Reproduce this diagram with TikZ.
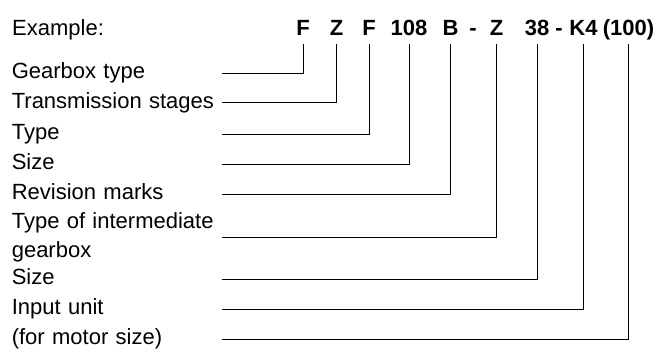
\documentclass[tikz,border=0pt]{standalone}
\usepackage{fontspec}
\setmainfont{Liberation Sans}
\usepackage{tikz}
\usetikzlibrary{positioning}
\newcommand{\codefont}{\fontsize{22}{29}\selectfont}

\begin{document}
\begin{tikzpicture}[
    x=1pt, y=-1pt,
    every node/.style={font=\codefont},
    code/.style={font=\codefont\bfseries, anchor=base, inner sep=0pt, text depth=9pt},
    desc/.style={anchor=east, inner sep=0pt, text width=210pt, align=left},
    descline/.style={desc, text height=15.5pt, text depth=4.5pt},
    lead/.style={line width=1pt}
]
\useasboundingbox (0,0) rectangle (656,351);

\node[anchor=base west, inner sep=0pt] (example) at (12,35) {Example:};
\node[code] (cGear) at (303,35) {F};
\node[code] (cStage) at (336.5,35) {Z};
\node[code] (cType) at (369,35) {F};
\node[code] (cSize) at (409,35) {108};
\node[code] (cRev) at (450.5,35) {B};
\node[code] (dashA) at (473,35) {-};
\node[code] (cInter) at (496.5,35) {Z};
\node[code] (cInterSize) at (537,35) {38};
\node[code] (dashB) at (559,35) {-};
\node[code] (cInput) at (583.5,35) {K4};
\node[code] (cMotor) at (628.5,35) {(100)};

\node[descline] (lGear) at (222,73) {Gearbox type};
\node[descline] (lStage) at (222,102.5) {Transmission stages};
\node[descline] (lType) at (222,134) {Type};
\node[descline] (lSize) at (222,164) {Size};
\node[descline] (lRev) at (222,194) {Revision marks};
\node[desc] (lInter) at (222,237) {Type of intermediate\\gearbox};
\node[descline] (lInterSize) at (222,279) {Size};
\node[descline] (lInput) at (222,309) {Input unit};
\node[descline] (lMotor) at (222,339) {(for motor size)};

\draw[lead] (cGear) |- (lGear);
\draw[lead] (cStage) |- (lStage);
\draw[lead] (cType) |- (lType);
\draw[lead] (cSize) |- (lSize);
\draw[lead] (cRev) |- (lRev);
\draw[lead] (cInter) |- (lInter);
\draw[lead] (cInterSize) |- (lInterSize);
\draw[lead] (cInput) |- (lInput);
\draw[lead] (cMotor) |- (lMotor);
\end{tikzpicture}
\end{document}
